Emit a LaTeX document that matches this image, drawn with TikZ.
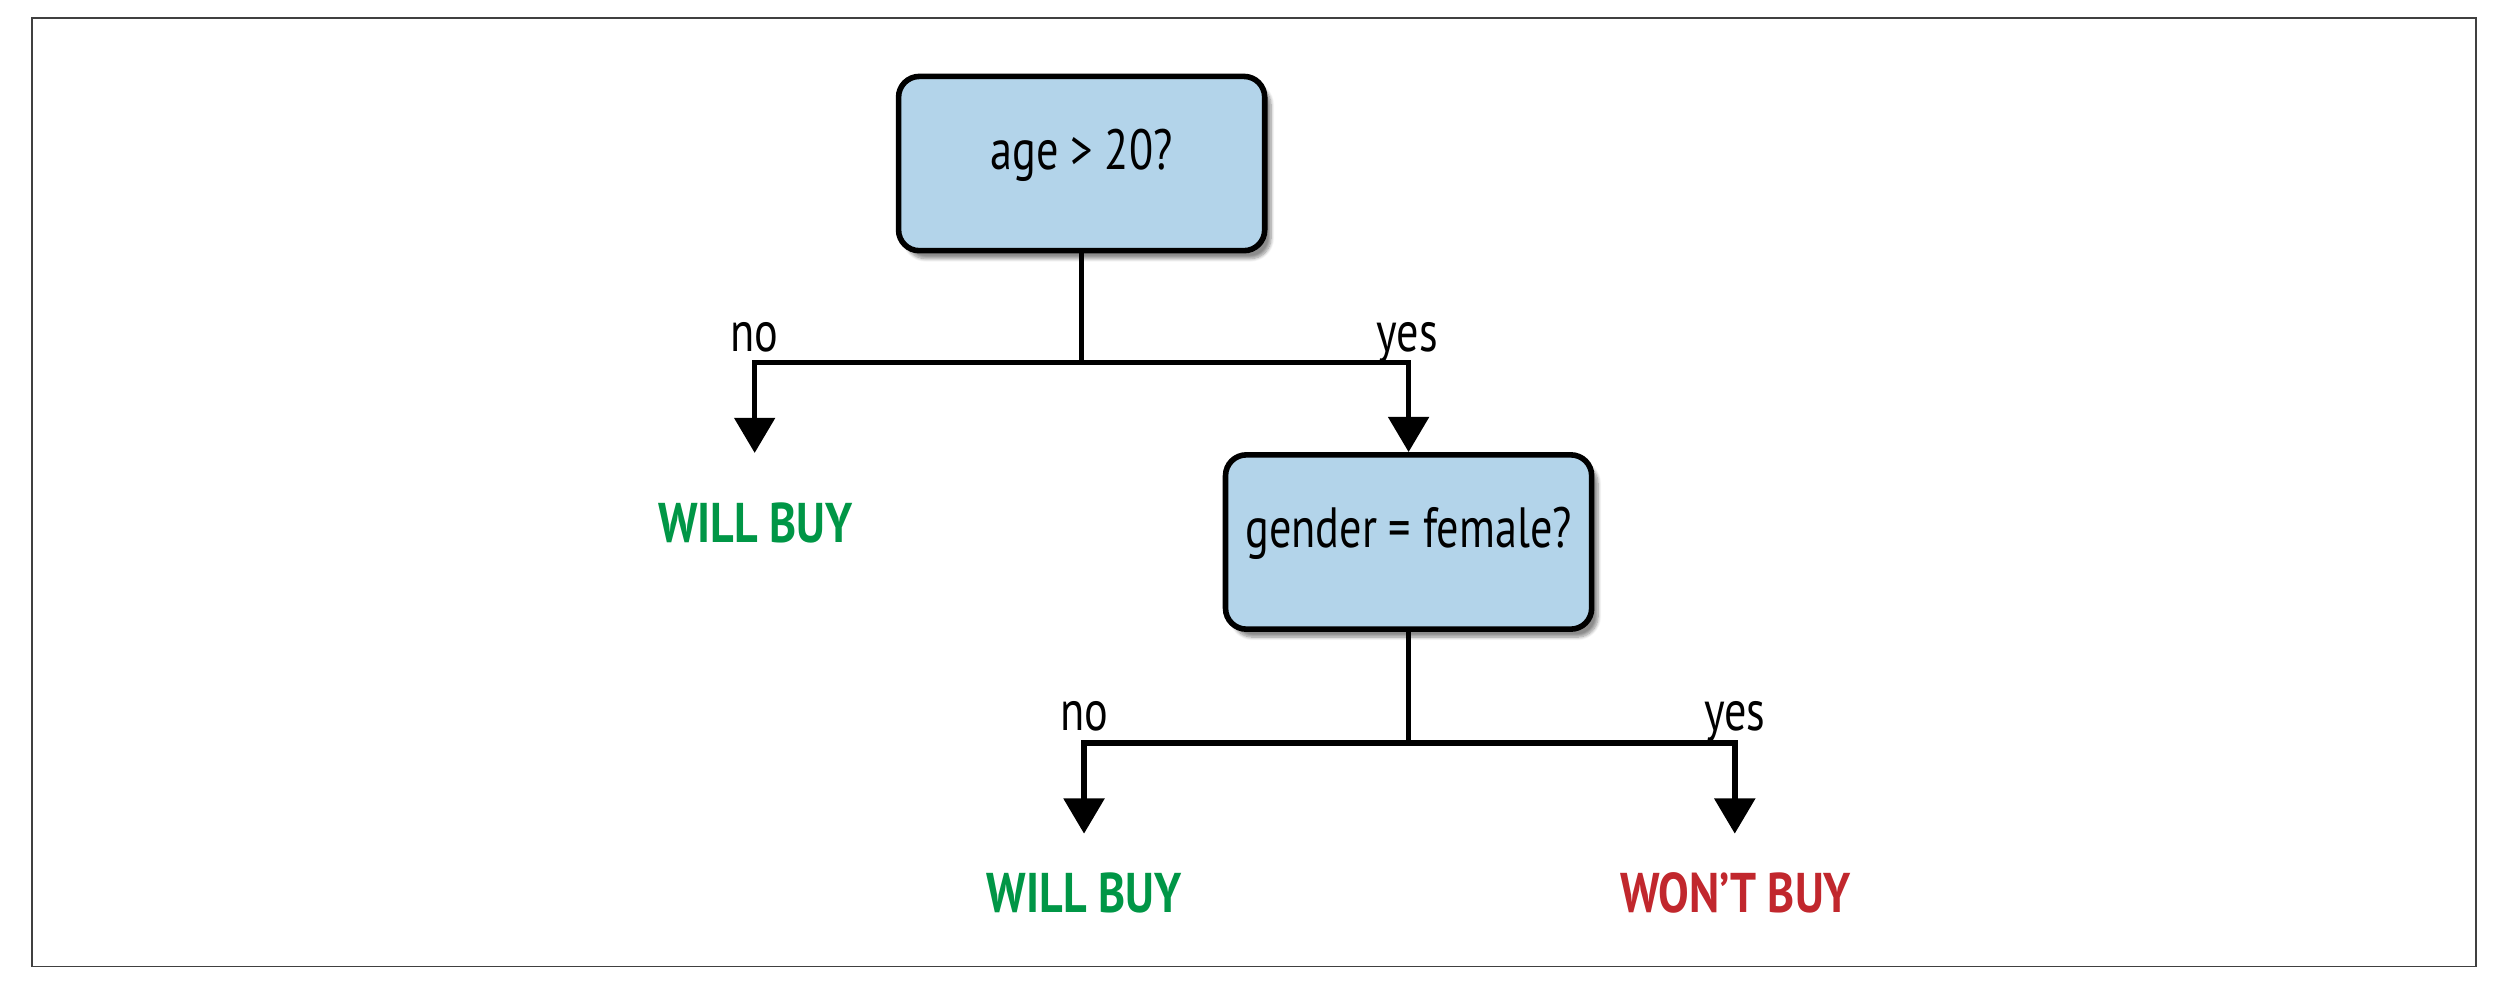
\documentclass[tikz,border=0pt]{standalone}
\usepackage{fontspec}
\setmainfont{PT Sans}[FakeStretch=0.78]
\newfontfamily\boldlab{PT Sans Bold}[FakeStretch=0.82]
\usetikzlibrary{arrows.meta,shadows.blur}
\definecolor{boxblue}{RGB}{179,212,234}
\definecolor{buygreen}{RGB}{0,150,70}
\definecolor{nobuyred}{RGB}{193,39,45}
\tikzset{
  qbox/.style={draw=black, line width=3.5pt, fill=boxblue, rounded corners=13pt,
    minimum width=229pt, minimum height=109pt, inner sep=0pt,
    text height=0.7em, text depth=0pt,
    font=\fontsize{35.5}{38}\selectfont,
    blur shadow={shadow xshift=4pt, shadow yshift=-5pt, shadow blur steps=8, shadow opacity=45}},
  lab/.style={anchor=base, inner sep=0pt, font=\fontsize{35.5}{38}\selectfont},
  outcome/.style={anchor=base, inner sep=0pt, font=\fontsize{35}{38}\selectfont\boldlab},
  conn/.style={line width=3.5pt, draw=black},
  arr/.style={conn, -{Triangle[length=22pt,width=25pt]}}
}
\begin{document}
\begin{tikzpicture}[x=1pt,y=-1pt]
\useasboundingbox (0,0) rectangle (1568,617);
\draw[black!75, line width=1.2pt] (20,11.5) rectangle (1548.5,604.5);

\node[qbox] (b1) at (676.5,102.3) {age > 20?};
\node[qbox] (b2) at (881,339) {gender = female?};

\coordinate (j1) at (676.5,226.7);
\coordinate (t1) at (472,283.3);
\coordinate (j2) at (881,464.7);
\coordinate (t2) at (678,521.4);
\coordinate (t3) at (1085,521.4);

\draw[conn] (b1.south) -- (j1);
\draw[arr] (j1) -| (t1);
\draw[arr] (j1) -| (b2.north);
\draw[conn] (b2.south) -- (j2);
\draw[arr] (j2) -| (t2);
\draw[arr] (j2) -| (t3);

\node[lab] (no1) at (472,220) {no};
\node[lab] (yes1) at (880,220) {yes};
\node[lab] (no2) at (678,457) {no};
\node[lab] (yes2) at (1085,457) {yes};

\node[outcome, text=buygreen] (o1) at (472.5,339.2) {WILL BUY};
\node[outcome, text=buygreen] (o2) at (678,570.6) {WILL BUY};
\node[outcome, text=nobuyred] (o3) at (1085.5,570.6) {WON’T BUY};
\end{tikzpicture}
\end{document}
